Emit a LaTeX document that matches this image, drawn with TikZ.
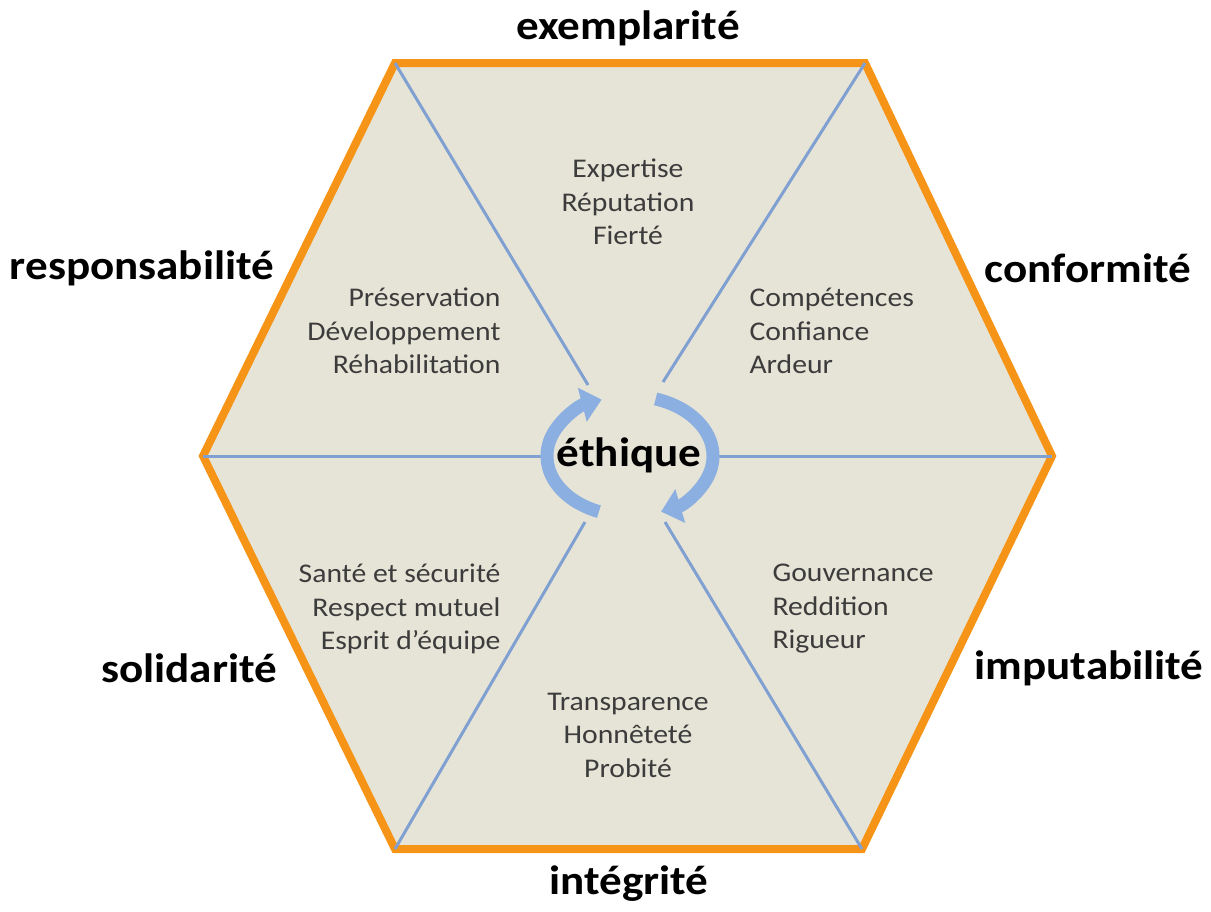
\documentclass[tikz,border=0pt]{standalone}
\usepackage{fontspec}
\setmainfont{Carlito}[FakeStretch=1.1]
\usetikzlibrary{arrows.meta}
\definecolor{hexfill}{RGB}{230,228,214}
\definecolor{hexorange}{RGB}{246,148,24}
\definecolor{spokeblue}{RGB}{128,160,210}
\definecolor{turnblue}{RGB}{140,175,225}
\definecolor{valuegray}{RGB}{60,60,60}
\tikzset{
  pillar/.style={font=\fontsize{41}{44}\selectfont\bfseries},
  values/.style={font=\fontsize{27}{33.5}\selectfont, text=valuegray},
  spoke/.style={draw=spokeblue, line width=3pt},
  turn/.style={draw=turnblue, line width=13pt, -{Triangle[length=20pt,width=34pt]}},
}
\begin{document}
\begin{tikzpicture}[x=1pt,y=-1pt]
    \useasboundingbox (0,0) rectangle (1211,911);

    \coordinate (h1) at (395,63);
    \coordinate (h2) at (865,63);
    \coordinate (h3) at (1052,456);
    \coordinate (h4) at (862,849);
    \coordinate (h5) at (395,849);
    \coordinate (h6) at (203,456);

    \coordinate (s1) at (588,385);
    \coordinate (s2) at (663,382);
    \coordinate (s3) at (713,456);
    \coordinate (s4) at (665,522);
    \coordinate (s5) at (585,522);
    \coordinate (s6) at (545,456);

    \filldraw[fill=hexfill, draw=hexorange, line width=8pt]
        (h1) -- (h2) -- (h3) -- (h4) -- (h5) -- (h6) -- cycle;

    \draw[spoke] (h1) -- (s1);
    \draw[spoke] (h2) -- (s2);
    \draw[spoke] (h3) -- (s3);
    \draw[spoke] (h4) -- (s4);
    \draw[spoke] (h5) -- (s5);
    \draw[spoke] (h6) -- (s6);

    \coordinate (c) at (630,456);
    \draw[turn] (c) ++(112:83 and 60) arc[start angle=112, end angle=250, x radius=83, y radius=60];
    \draw[turn] (c) ++(-72:83 and 60) arc[start angle=-72, end angle=68, x radius=83, y radius=60];

    \node[pillar] (ethique) at (629,455) {éthique};

    \node[pillar] (exemplarite) at (628,28) {exemplarité};
    \node[pillar] (responsabilite) at (142,268) {responsabilité};
    \node[pillar] (conformite) at (1088,268) {conformité};
    \node[pillar] (solidarite) at (189,668) {solidarité};
    \node[pillar] (imputabilite) at (1089,668) {imputabilité};
    \node[pillar] (integrite) at (629,884) {intégrité};

    \node[values, align=center] (top) at (628,202) {Expertise\\Réputation\\Fierté};
    \node[values, align=right, anchor=east] (upleft) at (504,331) {Préservation\\Développement\\Réhabilitation};
    \node[values, align=left, anchor=west] (upright) at (746,331) {Compétences\\Confiance\\Ardeur};
    \node[values, align=right, anchor=east] (lowleft) at (504,609) {Santé et sécurité\\Respect mutuel\\Esprit d’équipe};
    \node[values, align=left, anchor=west] (lowright) at (769,609) {Gouvernance\\Reddition\\Rigueur};
    \node[values, align=center] (bottom) at (628,735) {Transparence\\Honnêteté\\Probité};
\end{tikzpicture}
\end{document}
